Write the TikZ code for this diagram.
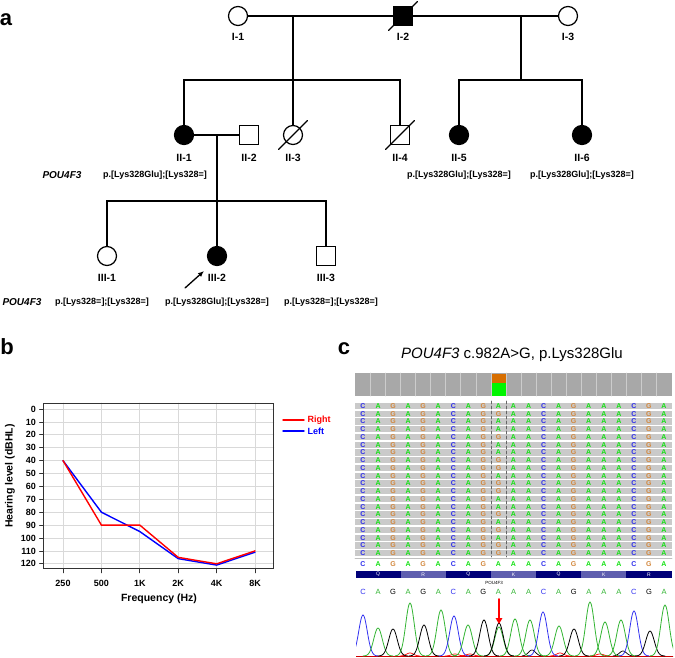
\documentclass[tikz,border=0pt]{standalone}
\usepackage{fontspec}
\setmainfont{Liberation Sans}
\usetikzlibrary{arrows.meta}

%Colors
\definecolor{colA}{RGB}{20,225,20}
\definecolor{colC}{RGB}{45,45,235}
\definecolor{colG}{RGB}{210,135,60}
\definecolor{chromA}{RGB}{50,180,50}
\definecolor{chromC}{RGB}{50,50,240}
\definecolor{chromG}{RGB}{0,0,0}
\definecolor{covgray}{RGB}{168,168,168}
\definecolor{readgray}{RGB}{202,202,202}
\definecolor{aadark}{RGB}{0,0,120}
\definecolor{aalight}{RGB}{95,95,175}
\definecolor{covorange}{RGB}{215,110,0}
\definecolor{covgreen}{RGB}{0,245,0}

\newcommand{\readseq}{C,A,G,A,G,A,C,A,G,A,A,A,C,A,G,A,A,A,C,G,A}

\begin{document}
\begin{tikzpicture}
				[x=1pt,y=-1pt,line cap=round,
				%Styles
				ped line/.style={line width=1.2pt},
				female/.style={circle,draw,line width=1.2pt,minimum size=19pt,inner sep=0pt},
				male/.style={rectangle,draw,line width=1.2pt,minimum size=19pt,inner sep=0pt},
				affected/.style={fill=black},
				gen/.style={font=\fontsize{10.5}{12}\selectfont\bfseries,inner sep=0pt},
				geno/.style={font=\fontsize{9}{10}\selectfont\bfseries,inner sep=0pt},
				gene/.style={font=\fontsize{10}{11}\selectfont\bfseries\itshape,inner sep=0pt},
				panel/.style={font=\fontsize{22}{24}\selectfont\bfseries,inner sep=0pt},
				tick label/.style={font=\fontsize{9}{10}\selectfont\bfseries,inner sep=0pt},
				axis title/.style={font=\fontsize{10.5}{12}\selectfont\bfseries,inner sep=0pt},
				grid line/.style={line width=0.8pt,black!15},
				read letter/.style={font=\fontsize{7}{7}\selectfont\bfseries,inner sep=0pt},
				chrom letter/.style={font=\fontsize{7.5}{8}\selectfont,inner sep=0pt}
				]
				\useasboundingbox (0,0) rectangle (675,658);
				
				%Panel letters
				\node[panel] (pa) at (6,19.5) {a};
				\node[panel] (pb) at (7,347) {b};
				\node[panel] (pc) at (344,349) {c};
				
				%The pedigree
				\node[female,label={[gen,label distance=7pt]below:I-1}] (I1) at (238,16) {};
				\node[male,affected,label={[gen,label distance=7pt]below:I-2}] (I2) at (403,16) {};
				\node[female,label={[gen,label distance=7pt]below:I-3}] (I3) at (568,16) {};
				\node[female,affected,label={[gen,label distance=9pt]below:II-1}] (II1) at (184,135) {};
				\node[male,label={[gen,label distance=9pt]below:II-2}] (II2) at (249,135) {};
				\node[female,label={[gen,label distance=9pt]below:II-3}] (II3) at (293,135) {};
				\node[male,label={[gen,label distance=9pt]below:II-4}] (II4) at (400,135) {};
				\node[female,affected,label={[gen,label distance=9pt]below:II-5}] (II5) at (459,135) {};
				\node[female,affected,label={[gen,label distance=9pt]below:II-6}] (II6) at (582,135) {};
				\node[female,label={[gen,label distance=8pt]below:III-1}] (III1) at (107,256) {};
				\node[female,affected,label={[gen,label distance=8pt]below:III-2}] (III2) at (217,256) {};
				\node[male,label={[gen,label distance=8pt]below:III-3}] (III3) at (326,256) {};
				
				\coordinate (m1) at (293,16);
				\coordinate (m2) at (521,16);
				\coordinate (m3) at (217,135);
				\coordinate (s1) at (293,80);
				\coordinate (s2) at (521,80);
				\coordinate (s3) at (217,201);
				
				\draw[ped line] (I1) -- (I2) -- (I3);
				\draw[ped line] (II1) -- (II2);
				\draw[ped line] (m1) -- (II3);
				\draw[ped line] (II1) -- (II1 |- s1) -- (II4 |- s1) -- (II4);
				\draw[ped line] (m2) -- (s2);
				\draw[ped line] (II5) -- (II5 |- s2) -- (II6 |- s2) -- (II6);
				\draw[ped line] (m3) -- (III2);
				\draw[ped line] (III1) -- (III1 |- s3) -- (III3 |- s3) -- (III3);
				
				%deceased
				\foreach \n in {I2,II3,II4}
					\draw[ped line] (\n.center) ++(-14.5,14.5) -- ++(29,-29);
				
				%proband
				\coordinate (pbtail) at (185,288);
				\coordinate (pbtip) at (204,271);
				\draw[line width=1.3pt,-{Latex[length=6pt,width=5pt]}] (pbtail) -- (pbtip);
				
				%genotypes
				\node[gene] (g2) at (62,175) {POU4F3};
				\node[geno] (gII1) at (155,175) {p.[Lys328Glu];[Lys328=]};
				\node[geno] (gII5) at (459,175) {p.[Lys328Glu];[Lys328=]};
				\node[geno] (gII6) at (582,175) {p.[Lys328Glu];[Lys328=]};
				\node[gene] (g3) at (22,302) {POU4F3};
				\node[geno] (gIII1) at (102,302) {p.[Lys328=];[Lys328=]};
				\node[geno] (gIII2) at (217,302) {p.[Lys328Glu];[Lys328=]};
				\node[geno] (gIII3) at (331,302) {p.[Lys328=];[Lys328=]};
				
				%The audiogram
				\begin{scope}[shift={(63,409)},x=38.4pt,y=-1.29pt]
					\foreach \i in {0,...,5}
						\draw[grid line] (\i,-4.65) -- (\i,124);
					\foreach \v in {0,10,...,120}
						\draw[grid line] (-0.52,\v) -- (5.49,\v);
					\draw[line width=1pt,black!80] (-0.52,-4.65) rectangle (5.49,124);
					\foreach \v in {0,10,...,120}{
						\draw[line width=0.8pt,black!80] (-0.61,\v) -- (-0.52,\v);
						\node[tick label,anchor=east] (y\v) at (-0.70,\v) {\v};
					}
					\foreach \f [count=\i from 0] in {250,500,1K,2K,4K,8K}{
						\draw[line width=0.8pt,black!80] (\i,124) -- (\i,127);
						\node[tick label] (x\i) at (\i,134.9) {\f};
					}
					\draw[line width=1.4pt,blue] plot coordinates {(0,40) (1,80) (2,95) (3,116) (4,121) (5,111)};
					\draw[line width=1.4pt,red] plot coordinates {(0,40) (1,90) (2,90) (3,115) (4,120) (5,110)};
				\end{scope}
				\node[axis title] (xt) at (159,599) {Frequency (Hz)};
				\node[axis title,rotate=90] (yt) at (10,476) {Hearing level (dBHL)};
				\coordinate (lr) at (283,420);
				\coordinate (lb) at (283,431);
				\draw[line width=1.4pt,red] (lr) -- ++(21,0) node[tick label,anchor=west,xshift=3pt] (lrt) {Right};
				\draw[line width=1.4pt,blue] (lb) -- ++(21,0) node[tick label,anchor=west,xshift=3pt] (lbt) {Left};
				
				%The alignment
				\node[font=\fontsize{15}{17}\selectfont,inner sep=0pt] (ttl) at (512,355) {\textit{POU4F3} c.982A>G, p.Lys328Glu};
				\fill[covgray] (355,373) rectangle (672,396);
				\foreach \i in {1,...,20}
					\draw[line width=0.8pt,black!20] ({355.5+15.05*\i},373) -- ++(0,23);
				\fill[covorange] (491.5,373.5) rectangle (505.5,383);
				\fill[covgreen] (491.5,383) rectangle (505.5,396);
				
				\foreach \m [count=\r from 0] in {A,G,A,A,G,A,A,G,G,A,G,G,A,A,G,A,G,A,G,G}{
					\pgfmathsetmacro\ry{406+7.75*\r}
					\fill[readgray] (355,\ry-3.2) rectangle (672,\ry+3.2);
					\foreach \b [count=\i from 0] in \readseq {
						\ifnum\i=9\relax\else
							\node[read letter,text=col\b] (rd-\r-\i) at ({363+15.05*\i},\ry) {\b};
						\fi
					}
					\node[read letter,text=col\m] (rd-\r-9) at (498.5,\ry) {\m};
				}
				\draw[line width=0.8pt,black!60,dash pattern=on 3pt off 2pt] (491.5,401) -- (491.5,557);
				\draw[line width=0.8pt,black!60,dash pattern=on 3pt off 2pt] (506.5,401) -- (506.5,557);
				\draw[line width=0.8pt,black!25] (355,558.5) -- (672,558.5);
				\foreach \b [count=\i from 0] in \readseq
					\node[read letter,text=col\b] (ref-\i) at ({363+15.05*\i},564.5) {\b};
				
				\foreach \aa/\shade [count=\k from 0] in {Q/aadark,R/aalight,Q/aadark,K/aalight,Q/aadark,K/aalight,R/aadark}{
					\fill[\shade] ({355.5+45.15*\k},571) rectangle ++(45.15,7);
					\node[font=\fontsize{5}{5}\selectfont,text=white,inner sep=0pt] (aa-\k) at ({378+45.15*\k},574.5) {\aa};
				}
				\node[font=\fontsize{4.5}{5}\selectfont,inner sep=0pt] (gname) at (494,583) {POU4F3};
				\foreach \b [count=\i from 0] in \readseq
					\node[chrom letter,text=chrom\b] (bc-\i) at ({363+15.05*\i},592) {\b};
				
				%The trace
				\begin{scope}
					\clip (356,596) rectangle (673,658);
					\draw[line width=0.6pt,red!80!black] (356,656.5) -- (673,656.5);
					\foreach \c/\h/\col in {410/3/red,455/2/red,532/6/black,560/3/red,623/5/black,600/2/red,470/2/red}
						\draw[line width=0.7pt,\col] plot[domain=\c-10:\c+10,samples=21,smooth] (\x,{656-\h*exp(-(((\x-\c)/5)^2))});
					\foreach \c/\h/\col in {363/41/chromC,378/28/chromA,393/27/chromG,410/53/chromA,424/31/chromG,441/46/chromA,454/40/chromC,468/31/chromA,484/36/chromG,499/29/chromA,499/33/chromG,515/37/chromA,530/36/chromA,543/44/chromC,559/30/chromA,574/27/chromG,590/54/chromA,605/34/chromA,621/36/chromA,634/45/chromC,650/25/chromG,665/51/chromA}
						\draw[line width=0.8pt,\col] plot[domain=\c-15:\c+15,samples=31,smooth] (\x,{656-\h*exp(-(((\x-\c)/6)^2))});
				\end{scope}
				\coordinate (arrtail) at (499,599);
				\coordinate (arrtip) at (499,624);
				\draw[line width=1.6pt,red,-{Triangle[length=6pt,width=6.5pt]}] (arrtail) -- (arrtip);
			\end{tikzpicture}
\end{document}
